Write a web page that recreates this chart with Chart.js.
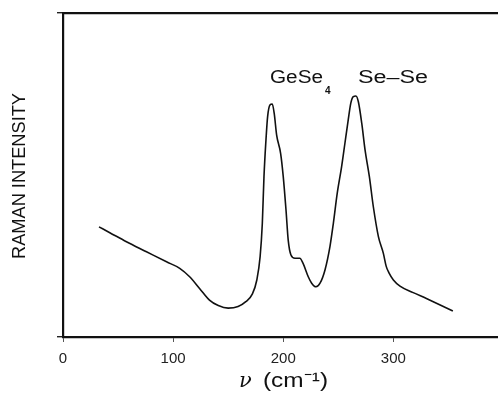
<!DOCTYPE html>
<html>
<head>
<meta charset="utf-8">
<script src="https://cdn.jsdelivr.net/npm/chart.js@4.4.1/dist/chart.umd.min.js"></script>
<style>
html,body{margin:0;padding:0;background:#fff;overflow:hidden;}
#wrap{width:498px;height:393px;position:relative;}
</style>
</head>
<body>
<div id="wrap"><canvas id="c" width="498" height="393"></canvas></div>
<script>
// Raman spectrum (wavenumber cm^-1, relative intensity)
const wavenumber = [32.7,42.5,57.6,75.8,94,106,115,124,133,141,150,159,166,172,176,179,181,182.5,184.3,185.8,187.9,190,191.8,194,197.6,200,202.5,204.5,207,210.6,215,218,222.7,225.8,229.7,233.4,237.9,242.4,245.5,249,253,256,259,261.3,263.6,266,268.2,271.3,274.3,278.2,281.8,286.4,290.9,293.5,296,300,306,318,330,342.5,354];
const intensity  = [34.0,32.2,29.4,26.3,23.2,21.2,18.6,15.0,11.4,9.7,8.9,9.4,10.9,13.3,17.6,24.8,35.1,49.5,60.8,68.0,71.6,71.9,69.0,62.3,56.7,49.5,39.2,29.9,25.3,24.3,24.3,22.7,18.6,16.6,15.5,16.6,20.7,27.9,35.1,44.3,52.6,59.8,67.0,72.1,74.2,74.4,72.6,65.9,57.7,49.5,40.2,31.0,25.8,21.8,19.8,17.6,15.7,13.7,11.9,9.9,8.0];
const xTicks = [0,100,200,300];
const peakLabels = ["GeSe", "Se\u2013Se"];
const yTitle = "RAMAN INTENSITY";
const xTitle = "(cm\u207B\u00B9)";

const points = wavenumber.map((x,i)=>({x:x,y:intensity[i]}));

function fitText(ctx, txt, x, y, w){
  const m = ctx.measureText(txt).width;
  ctx.save();
  ctx.translate(x, y);
  ctx.scale(w / m, 1);
  ctx.fillText(txt, 0, 0);
  ctx.restore();
}

const textPlugin = {
  id:'texts',
  afterDraw(chart){
    const ctx = chart.ctx;
    ctx.save();
    ctx.fillStyle = '#111';
    ctx.textBaseline = 'alphabetic';
    ctx.textAlign = 'left';
    ctx.font = '18px "Liberation Sans", Arial, sans-serif';
    fitText(ctx, peakLabels[0], 270, 83, 53);
    ctx.font = 'bold 10px "Liberation Sans", Arial, sans-serif';
    ctx.fillText('4', 325, 94);
    ctx.font = '18px "Liberation Sans", Arial, sans-serif';
    fitText(ctx, peakLabels[1], 358, 83, 70);
    ctx.save();
    ctx.translate(25, 176);
    ctx.rotate(-Math.PI/2);
    ctx.font = '18px "Liberation Sans", Arial, sans-serif';
    fitText(ctx, yTitle, -83, 0, 166);
    ctx.restore();
    ctx.font = 'italic 21px "DejaVu Serif", serif';
    ctx.fillText('\u03BD', 239, 387);
    ctx.font = '21px "Liberation Sans", Arial, sans-serif';
    fitText(ctx, xTitle, 263, 387, 65);
    ctx.restore();
  }
};

new Chart(document.getElementById('c'), {
  type:'scatter',
  data:{datasets:[{
    data:points,
    showLine:true,
    borderColor:'#111',
    borderWidth:1.6,
    pointRadius:0,
    cubicInterpolationMode:'monotone',
    fill:false
  }]},
  options:{
    responsive:false,
    animation:false,
    events:[],
    layout:{padding:0},
    plugins:{legend:{display:false},tooltip:{enabled:false}},
    scales:{
      x:{
        type:'linear', position:'bottom', min:0, max:395,
        afterBuildTicks: s => { s.ticks = xTicks.map(v=>({value:v})); },
        afterFit: s => { s.height = 56; },
        ticks:{color:'#222', font:{family:'"Liberation Sans", Arial, sans-serif', size:15}, padding:8, maxRotation:0},
        grid:{drawOnChartArea:false, drawTicks:true, tickLength:5, color:'#555', lineWidth:1},
        border:{display:true, color:'#111', width:2.2}
      },
      x2:{
        type:'linear', position:'top', min:0, max:395,
        afterFit: s => { s.height = 13; },
        ticks:{display:false},
        grid:{display:false, drawOnChartArea:false, drawTicks:false},
        border:{display:true, color:'#111', width:2.2}
      },
      y:{
        type:'linear', min:0, max:100,
        afterBuildTicks: s => { s.ticks = [{value:0},{value:100}]; },
        afterFit: s => { s.width = 63; },
        ticks:{callback:()=> '', padding:0},
        grid:{drawOnChartArea:false, drawTicks:true, tickLength:6, color:'#222', lineWidth:1.4},
        border:{display:true, color:'#111', width:2.2}
      }
    }
  },
  plugins:[textPlugin]
});
</script>
</body>
</html>
